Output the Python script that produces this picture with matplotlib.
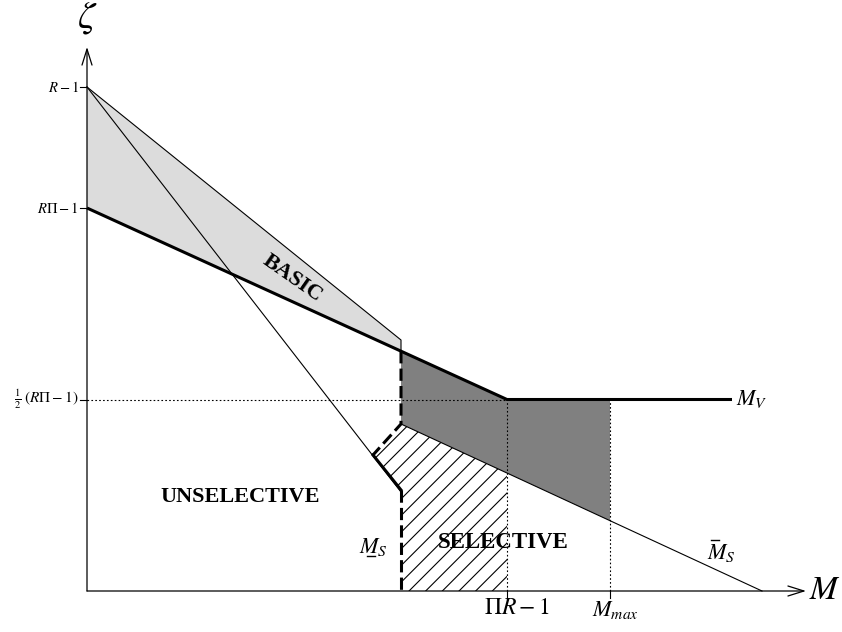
import matplotlib
matplotlib.use("Agg")
import matplotlib.pyplot as plt
from matplotlib.patches import Polygon

plt.rcParams['font.family'] = ['Liberation Serif', 'DejaVu Serif']
plt.rcParams['mathtext.fontset'] = 'stix'
plt.rcParams['hatch.linewidth'] = 0.8

# Schematic values (arbitrary units along M and zeta)
zeta_R = 5.04          # R - 1
zeta_RPi = 3.83        # R*Pi - 1
zeta_half = 1.915      # (R*Pi - 1) / 2
m_s = 3.14             # lower bound of the selective region
m_pir = 4.20           # Pi*R - 1
m_max = 5.23           # M_max
m_v_end = 6.45         # end of the M_V curve
m_sbar_end = 6.75      # where the upper M_S bound hits the axis
basic_end = 2.51       # upper BASIC edge at m_s
steep_end = 0.99       # steep line at m_s
ms_knee_top = 1.67     # M_S boundary points
ms_knee_x = 2.86
ms_knee_mid = 1.36
ms_knee_low = 1.01

def m_v(m):
    # piecewise M_V curve: falling, then flat
    if m <= m_pir:
        return zeta_RPi + (zeta_half - zeta_RPi) * m / m_pir
    return zeta_half

def m_sbar(m):
    return ms_knee_top * (m_sbar_end - m) / (m_sbar_end - m_s)

fig = plt.figure(figsize=(8.42, 6.32), dpi=100)
ax = fig.add_axes([0, 0, 1, 1])
ax.set_xlim(-0.87, 7.55)
ax.set_ylim(-0.41, 5.91)
ax.axis('off')

# light grey BASIC wedge
basic = Polygon([(0, zeta_R), (m_s, basic_end), (m_s, m_v(m_s)), (0, zeta_RPi)],
                closed=True, facecolor='#dcdcdc', edgecolor='none', zorder=1)
ax.add_patch(basic)
ax.plot([0, m_s, m_s], [zeta_R, basic_end, m_v(m_s)], color='black', lw=0.8, zorder=3)

# dark grey region between M_V and upper M_S
dark = Polygon([(m_s, m_v(m_s)), (m_pir, zeta_half), (m_max, zeta_half),
                (m_max, m_sbar(m_max)), (m_s, ms_knee_top)],
               closed=True, facecolor='#808080', edgecolor='none', zorder=1)
ax.add_patch(dark)

# hatched selective region
hatched = Polygon([(m_s, ms_knee_top), (m_pir, m_sbar(m_pir)), (m_pir, 0), (m_s, 0),
                   (m_s, ms_knee_low), (ms_knee_x, ms_knee_mid)],
                  closed=True, facecolor='none', edgecolor='black', lw=0,
                  hatch='//', zorder=1)
ax.add_patch(hatched)

# steep thin line from R-1
ax.plot([0, m_s], [zeta_R, steep_end], color='black', lw=0.8, zorder=3)

# upper M_S bound
ax.plot([m_s, m_sbar_end], [ms_knee_top, 0], color='black', lw=0.8, zorder=3)

# M_V curve
ax.plot([0, m_pir, m_v_end], [zeta_RPi, zeta_half, zeta_half], color='black', lw=2.2,
        solid_capstyle='butt', zorder=4)

# lower M_S boundary
dash = (0, (4, 1.7))
ax.plot([m_s, m_s, ms_knee_x], [m_v(m_s), ms_knee_top, ms_knee_mid], color='black',
        lw=2.2, linestyle=dash, zorder=4)
ax.plot([ms_knee_x, m_s], [ms_knee_mid, ms_knee_low], color='black', lw=2.2, zorder=4)
ax.plot([m_s, m_s], [ms_knee_low, 0], color='black', lw=2.2, linestyle=dash, zorder=4)

# dotted guides
dot = (0, (1.5, 2))
ax.plot([0, m_pir], [zeta_half, zeta_half], color='black', lw=0.8, linestyle=dot, zorder=2)
ax.plot([m_pir, m_pir], [0, zeta_half], color='black', lw=0.8, linestyle=dot, zorder=5)
ax.plot([m_max, m_max], [0, zeta_half], color='black', lw=0.8, linestyle=dot, zorder=5)

# axes with open arrow heads
arrow = dict(arrowstyle='->, head_length=1.15, head_width=0.36', lw=0.9, color='black',
             shrinkA=0, shrinkB=0, mutation_scale=10)
ax.annotate('', xy=(7.19, 0), xytext=(0, 0), arrowprops=arrow, zorder=6)
ax.annotate('', xy=(0, 5.44), xytext=(0, 0), arrowprops=arrow, zorder=6)

# ticks
for yv in [zeta_R, zeta_RPi, zeta_half]:
    ax.plot([-0.07, 0], [yv, yv], color='black', lw=0.8)
for xv in [m_pir, m_max]:
    ax.plot([xv, xv], [0, -0.07], color='black', lw=0.8)

ax.text(-0.08, zeta_R, r'$R-1$', ha='right', va='center', fontsize=10.5)
ax.text(-0.08, zeta_RPi, r'$R\Pi-1$', ha='right', va='center', fontsize=10.5)
ax.text(-0.08, zeta_half, r'$\frac{1}{2}\;(R\Pi-1)$', ha='right', va='center', fontsize=11)
ax.text(m_pir + 0.10, -0.17, r'$\Pi R-1$', ha='center', va='center', fontsize=17)
ax.text(m_max + 0.05, -0.19, r'$M_{max}$', ha='center', va='center', fontsize=16)

ax.text(0, 5.73, r'$\zeta$', ha='center', va='center', fontsize=28)
ax.text(7.38, 0.0, r'$M$', ha='center', va='center', fontsize=24)
ax.text(6.49, zeta_half, r'$M_V$', ha='left', va='center', fontsize=16)
ax.text(6.34, 0.38, r'$M_S$', ha='center', va='center', fontsize=16)
ax.plot([6.24, 6.32], [0.51, 0.51], color='black', lw=1.0)
ax.text(2.86, 0.44, r'$M_S$', ha='center', va='center', fontsize=16)
ax.plot([2.80, 2.88], [0.35, 0.35], color='black', lw=1.0)

ax.text(2.05, 3.13, 'BASIC', rotation=-35, ha='center', va='center',
        fontsize=16, fontweight='bold')
ax.text(1.53, 0.94, 'UNSELECTIVE', ha='center', va='center', fontsize=16, fontweight='bold')
ax.text(4.16, 0.48, 'SELECTIVE', ha='center', va='center', fontsize=16.5, fontweight='bold')

fig.savefig('out.png', dpi=100)
